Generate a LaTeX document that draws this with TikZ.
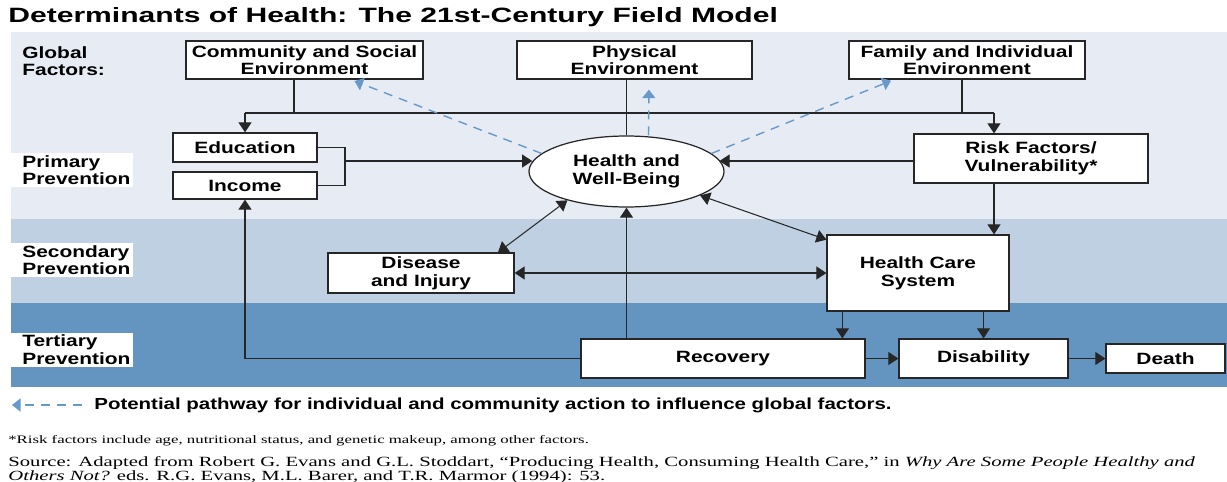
\documentclass[tikz,border=0pt]{standalone}
\usepackage{fontspec}
\usetikzlibrary{arrows.meta,shapes.geometric,calc}
\newfontfamily\diagfont[FakeStretch=1.28]{Liberation Sans}
\newfontfamily\titlefont[FakeStretch=1.45]{Liberation Sans}
\newfontfamily\notefont[FakeStretch=1.47]{Liberation Serif}
\definecolor{bandlight}{RGB}{231,236,244}
\definecolor{bandmid}{RGB}{191,208,227}
\definecolor{banddark}{RGB}{100,148,192}
\definecolor{pathblue}{RGB}{104,153,203}
\begin{document}
\begin{tikzpicture}
        [x=0.2mm,y=-0.2mm,
        every node/.style={font=\diagfont\bfseries\fontsize{9.3}{10}\selectfont, inner sep=0pt},
        box/.style={draw=black!85, fill=white, line width=0.7pt, align=center},
        lab/.style={fill=white, align=left, anchor=west, text width=20mm, inner xsep=2.2mm, minimum height=6.8mm},
        conn/.style={draw=black!85, line width=0.6pt},
        arr/.style={conn, -{Triangle[width=2.6mm,length=2mm]}},
        dbl/.style={conn, {Triangle[width=2.6mm,length=2mm]}-{Triangle[width=2.6mm,length=2mm]}},
        pathway/.style={draw=pathblue, line width=0.8pt, dash pattern=on 1.8mm off 1.4mm, -{Triangle[width=2.6mm,length=1.7mm]}},
        ]
        \useasboundingbox (0,0) rectangle (1227,481);
        \fill[white] (0,0) rectangle (1227,481);
        % bands
        \fill[bandlight] (11,32) rectangle (1227,219);
        \fill[bandmid] (11,219) rectangle (1227,303);
        \fill[banddark] (11,303) rectangle (1227,387);

        \node[anchor=west, font=\titlefont\bfseries\fontsize{11.8}{13}\selectfont] (title) at (8,17)
          {Determinants of Health: The 21st-Century Field Model};

        % band labels
        \node[anchor=west, align=left] (global) at (22,61) {Global\\Factors:};
        \node[lab] (primary) at (11,170) {Primary\\Prevention};
        \node[lab] (secondary) at (11,260) {Secondary\\Prevention};
        \node[lab] (tertiary) at (11,349.5) {Tertiary\\Prevention};

        % global factors
        \node[box, minimum width=47.4mm, minimum height=7.6mm] (comm) at (304.5,60) {Community and Social\\Environment};
        \node[box, minimum width=47mm, minimum height=7.6mm] (phys) at (634.5,60) {Physical\\Environment};
        \node[box, minimum width=47.2mm, minimum height=7.6mm] (fam) at (967,60) {Family and Individual\\Environment};

        % primary
        \node[box, minimum width=28.8mm, minimum height=5.8mm] (edu) at (245,147.5) {Education};
        \node[box, minimum width=28.8mm, minimum height=5.4mm] (inc) at (245,185.5) {Income};
        \node[box, ellipse, minimum width=39mm, minimum height=14.2mm] (health) at (626.5,171.5) {Health and\\Well-Being};
        \node[box, minimum width=46.8mm, minimum height=9.8mm] (risk) at (1031,158.5) {Risk Factors/\\Vulnerability*};

        % secondary
        \node[box, minimum width=37.2mm, minimum height=8mm] (dis) at (421,273) {Disease\\and Injury};
        \node[box, minimum width=36.4mm, minimum height=15.2mm] (hcs) at (918,273) {Health Care\\System};

        % tertiary
        \node[box, minimum width=56.8mm, minimum height=7.8mm] (rec) at (723,358.5) {Recovery};
        \node[box, minimum width=33.8mm, minimum height=7.8mm] (disab) at (983.5,358.5) {Disability};
        \node[box, minimum width=23.8mm, minimum height=5.8mm] (death) at (1165.5,358.5) {Death};

        % top distribution line
        \coordinate (jl) at (245,113);
        \coordinate (jr) at (994,113);
        \coordinate (cc) at (294,113);
        \coordinate (fc) at (962,113);
        \draw[conn] (jl) -- (jr);
        \draw[conn] (comm.south -| cc) -- (cc);
        \draw[conn] (fam.south -| fc) -- (fc);
        \draw[conn] (phys.south -| health.north) -- (health.north);
        \draw[arr] (jl) -- (edu.north);
        \draw[arr] (jr) -- (risk.north -| jr);

        % education and income
        \coordinate (br) at (345,161);
        \coordinate (rl) at (risk.west |- br);
        \draw[conn] (edu.east) -| (br) |- (inc.east);
        \draw[arr] (br) -- (br -| health.174);
        \draw[arr] (rl) -- (rl -| health.7);
        \draw[arr] (risk.south -| jr) -- (hcs.north -| jr);

        % two-way links
        \draw[dbl] (health.206) -- (dis.15.5);
        \draw[dbl] (health.342) -- (hcs.160);
        \draw[dbl] (dis.east) -- (hcs.west |- dis.east);

        % outcomes
        \draw[arr] (rec.north -| health.south) -- (health.south);
        \draw[arr] (rec.west) -| (inc.south);
        \draw[arr] ($(hcs.south west)+(16,0)$) coordinate (hr) -- (hr |- rec.north);
        \draw[arr] (hcs.south -| disab.north) -- (disab.north);
        \draw[arr] (rec.east) -- (disab.west);
        \draw[arr] (disab.east) -- (death.west);

        % pathways to global factors
        \draw[pathway, shorten >=0.8mm] (health.168) -- (comm.337);
        \draw[pathway, shorten >=2mm] ($(health.north)+(22,0)$) -- ($(phys.south)+(14.5,0)$);
        \draw[pathway, shorten >=0.6mm] (health.12) -- (fam.195);

        % legend
        \node[anchor=west, font=\diagfont\bfseries\fontsize{9.1}{10}\selectfont] (legend) at (94,405)
          {Potential pathway for individual and community action to influence global factors.};
        \coordinate (legtip) at (12,405);
        \draw[pathway] ($(legend.west)+(-12,0)$) -- (legtip);

        % notes
        \node[anchor=west, font=\notefont\fontsize{6.5}{8}\selectfont] (note) at (8,441)
          {*Risk factors include age, nutritional status, and genetic makeup, among other factors.};
        \node[anchor=north west, align=left, font=\notefont\fontsize{8}{8}\selectfont] (source) at (8,456)
          {Source: Adapted from Robert G. Evans and G.L. Stoddart, “Producing Health, Consuming Health Care,” in \emph{Why Are Some People Healthy and}\\
          \emph{Others Not?} eds. R.G. Evans, M.L. Barer, and T.R. Marmor (1994): 53.};
\end{tikzpicture}
\end{document}
